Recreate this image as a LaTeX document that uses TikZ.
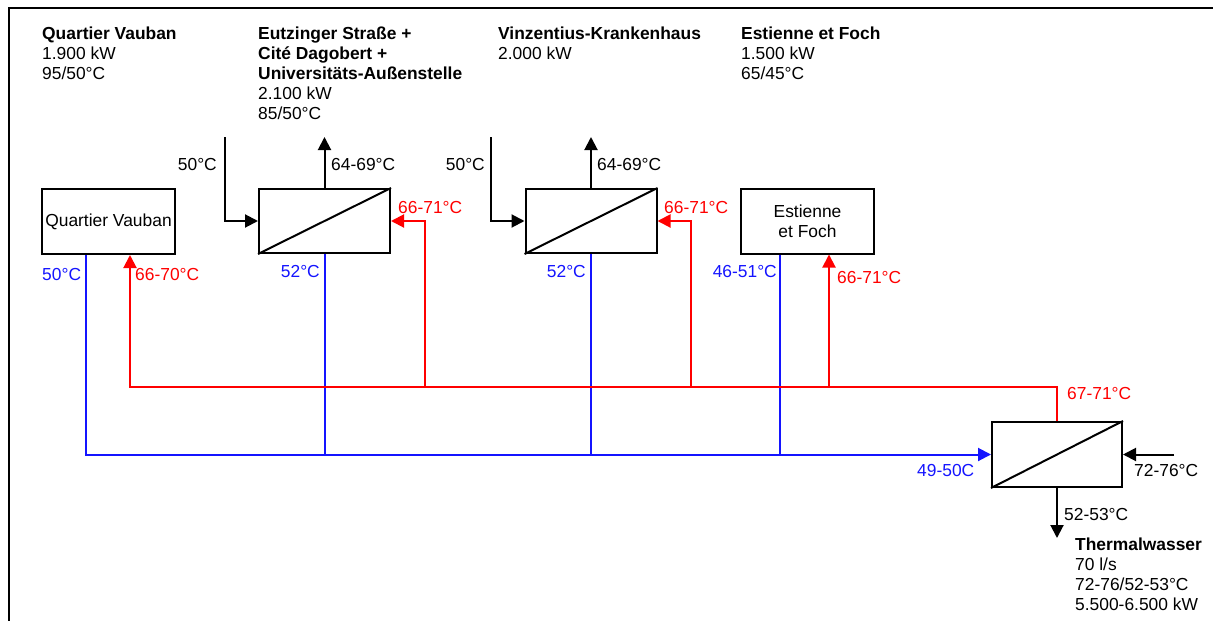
\documentclass[tikz,border=0pt]{standalone}
\usepackage{fontspec}
\setmainfont{Liberation Sans}
\usetikzlibrary{arrows.meta}
\definecolor{pred}{RGB}{255,0,0}
\definecolor{pblue}{RGB}{20,20,255}
\begin{document}
\begin{tikzpicture}[x=1pt,y=-1pt,
  every node/.style={font=\fontsize{17.4}{20}\selectfont, inner sep=0pt},
  lbl/.style={anchor=base west},
  lblr/.style={anchor=base east},
  head/.style={align=left, anchor=base west},
  unitbox/.style={draw, line width=2pt, minimum width=133pt, minimum height=65pt, align=center},
  hxbox/.style={draw, line width=2pt, minimum width=131pt, minimum height=64pt},
  pipe/.style={line width=2pt},
  hot/.style={pipe, draw=pred},
  cold/.style={pipe, draw=pblue},
  tip/.style={-{Triangle[length=13pt,width=13pt]}},
]
\useasboundingbox (0,0) rectangle (1213,621);
% frame
\draw[line width=1.8pt] (9,621) -- (9,8) -- (1213,8);

% headings (anchored at the baseline of their last line)
\node[head] (hqv) at (42,79) {\textbf{Quartier Vauban}\\1.900 kW\\95/50°C};
\node[head] (heu) at (258,119) {\textbf{Eutzinger Straße +}\\\textbf{Cité Dagobert +}\\\textbf{Universitäts-Außenstelle}\\2.100 kW\\85/50°C};
\node[head] (hvi) at (498,59) {\textbf{Vinzentius-Krankenhaus}\\2.000 kW};
\node[head] (hef) at (741,79) {\textbf{Estienne et Foch}\\1.500 kW\\65/45°C};
\node[head] (htw) at (1075,610) {\textbf{Thermalwasser}\\70 l/s\\72-76/52-53°C\\5.500-6.500 kW};

% boxes
\node[unitbox] (qv) at (108.5,221.5) {\raisebox{3pt}{Quartier Vauban}};
\node[hxbox] (hx1) at (324.5,221) {};
\node[hxbox] (hx2) at (591,221) {};
\node[unitbox] (ef) at (807.5,221) {Estienne\\et Foch};
\node[hxbox, minimum width=130pt, minimum height=65pt] (hx3) at (1057,454.5) {};
\foreach \h in {hx1,hx2,hx3}
  \draw[pipe] (\h.south west) -- (\h.north east);

% coordinates
\coordinate (bl) at (86,454.5);
\coordinate (rb) at (130,387);
\coordinate (r1) at (425,387);
\coordinate (r2) at (691,387);
\coordinate (r3) at (829,387);
\coordinate (b3) at (780,454.5);
\coordinate (in1) at (225,137);
\coordinate (in2) at (491,137);
\coordinate (tw) at (1174,454.5);
\coordinate (twout) at (1057,538);

% cold return line
\draw[cold,tip] (qv.south -| bl) -- (bl) -- (hx3.west);
\draw[cold] (hx1.south) -- (hx1.south |- bl);
\draw[cold] (hx2.south) -- (hx2.south |- bl);
\draw[cold] (ef.south -| b3) -- (b3);

% hot supply line
\draw[hot,tip] (hx3.north) -- (hx3.north |- rb) -- (rb) -- (qv.south -| rb);
\draw[hot,tip] (r1) -- (r1 |- hx1.east) -- (hx1.east);
\draw[hot,tip] (r2) -- (r2 |- hx2.east) -- (hx2.east);
\draw[hot,tip] (r3) -- (ef.south -| r3);

% secondary circuits
\draw[pipe,tip] (in1) -- (in1 |- hx1.west) -- (hx1.west);
\draw[pipe,tip] (hx1.north) -- (hx1.north |- in1);
\draw[pipe,tip] (in2) -- (in2 |- hx2.west) -- (hx2.west);
\draw[pipe,tip] (hx2.north) -- (hx2.north |- in2);
\draw[pipe,tip] (tw) -- (hx3.east);
\draw[pipe,tip] (hx3.south) -- (twout);

% labels
\node[lblr] (l1) at (217,170) {50°C};
\node[lbl] (l2) at (331,170) {64-69°C};
\node[lbl,text=pred] (l3) at (398,213) {66-71°C};
\node[lblr,text=pblue] (l4) at (320,277) {52°C};
\node[lbl,text=pblue] (l5) at (42,280) {50°C};
\node[lbl,text=pred] (l6) at (135,280) {66-70°C};
\node[lblr] (l7) at (485,170) {50°C};
\node[lbl] (l8) at (597,170) {64-69°C};
\node[lbl,text=pred] (l9) at (664,213) {66-71°C};
\node[lblr,text=pblue] (l10) at (586,277) {52°C};
\node[lblr,text=pblue] (l11) at (777,277) {46-51°C};
\node[lbl,text=pred] (l12) at (837,283) {66-71°C};
\node[lbl,text=pred] (l13) at (1067,399) {67-71°C};
\node[lbl,text=pblue] (l14) at (917,476) {49-50C};
\node[lbl] (l15) at (1134,476) {72-76°C};
\node[lbl] (l16) at (1064,520) {52-53°C};
\end{tikzpicture}
\end{document}
